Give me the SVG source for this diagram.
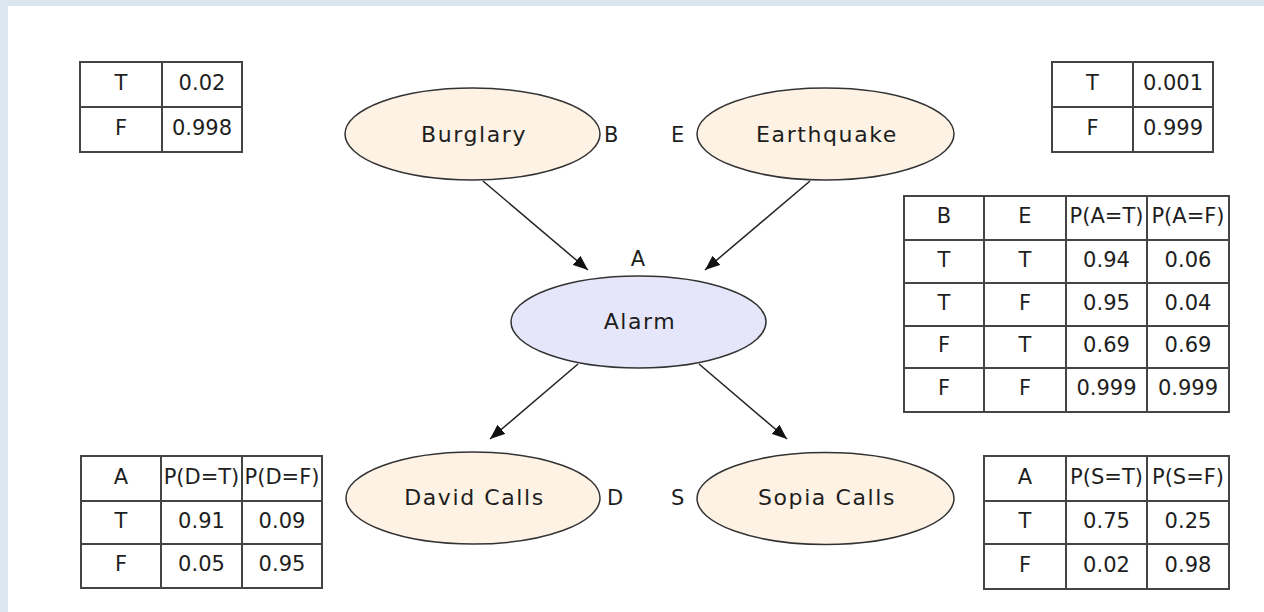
<svg xmlns="http://www.w3.org/2000/svg" width="1264" height="612" viewBox="0 0 1264 612">
  <style>
    .frame { fill: #dce6f1; }
    .node { stroke: #333; stroke-width: 1.5; }
    .cause { fill: #fdf2e4; }
    .alarm { fill: #e6e6fa; }
    .label { font-family: "DejaVu Sans", "Verdana", sans-serif; font-size: 22px; fill: #1e1e1e; text-anchor: middle; letter-spacing: 1.6px; }
    .var { font-family: "DejaVu Sans", "Verdana", sans-serif; font-size: 21px; fill: #1e1e1e; }
    .edge { stroke: #222; stroke-width: 1.5; fill: none; marker-end: url(#arrow); }
    .grid { fill: #fff; stroke: #444; stroke-width: 2; }
    .cell { font-family: "DejaVu Sans", "Verdana", sans-serif; font-size: 21px; fill: #1e1e1e; text-anchor: middle; }
    .rule { stroke: #444; stroke-width: 2; }
  </style>
  <defs>
    <marker id="arrow" viewBox="0 0 15 12" refX="15" refY="6" markerWidth="15" markerHeight="12" markerUnits="userSpaceOnUse" orient="auto">
      <path d="M0,0 L15,6 L0,12 Z" fill="#111"/>
    </marker>
  </defs>

  <!-- page background with light border strips -->
  <rect x="0" y="0" width="1264" height="612" fill="#fff"/>
  <rect class="frame" x="0" y="0" width="1264" height="6"/>
  <rect class="frame" x="0" y="0" width="8" height="612"/>

  <!-- connectors -->
  <g id="edges">
    <line class="edge" x1="483" y1="181" x2="588" y2="270"/>
    <line class="edge" x1="810" y1="181" x2="705" y2="270"/>
    <line class="edge" x1="578" y1="364" x2="490" y2="439"/>
    <line class="edge" x1="699" y1="364" x2="787" y2="439"/>
  </g>

  <!-- nodes -->
  <g id="burglary">
    <ellipse class="node cause" cx="472.5" cy="134" rx="127.5" ry="46"/>
    <text class="label" x="474" y="142">Burglary</text>
    <text class="var" x="604" y="142">B</text>
  </g>
  <g id="earthquake">
    <ellipse class="node cause" cx="825.5" cy="134" rx="128.5" ry="46"/>
    <text class="label" x="827" y="142">Earthquake</text>
    <text class="var" x="671" y="142">E</text>
  </g>
  <g id="alarm">
    <ellipse class="node alarm" cx="638.5" cy="322" rx="127.5" ry="46"/>
    <text class="label" x="640" y="329">Alarm</text>
    <text class="var" x="638" y="266" text-anchor="middle">A</text>
  </g>
  <g id="david">
    <ellipse class="node cause" cx="473" cy="498" rx="127" ry="46"/>
    <text class="label" x="474.5" y="505">David Calls</text>
    <text class="var" x="607" y="505">D</text>
  </g>
  <g id="sopia">
    <ellipse class="node cause" cx="825.5" cy="498.5" rx="128.5" ry="46"/>
    <text class="label" x="827" y="505">Sopia Calls</text>
    <text class="var" x="671" y="505">S</text>
  </g>

  <!-- P(B) -->
  <g id="table-b">
    <rect class="grid" x="80" y="62" width="162" height="90"/>
    <line class="rule" x1="162" y1="62" x2="162" y2="152"/>
    <line class="rule" x1="80" y1="107" x2="242" y2="107"/>
    <text class="cell" x="121" y="90">T</text>
    <text class="cell" x="202" y="90">0.02</text>
    <text class="cell" x="121" y="134.5">F</text>
    <text class="cell" x="202" y="134.5">0.998</text>
  </g>

  <!-- P(E) -->
  <g id="table-e">
    <rect class="grid" x="1052" y="62" width="161" height="90"/>
    <line class="rule" x1="1133" y1="62" x2="1133" y2="152"/>
    <line class="rule" x1="1052" y1="107" x2="1213" y2="107"/>
    <text class="cell" x="1092.5" y="90">T</text>
    <text class="cell" x="1173" y="90">0.001</text>
    <text class="cell" x="1092.5" y="134.5">F</text>
    <text class="cell" x="1173" y="134.5">0.999</text>
  </g>

  <!-- P(A | B, E) -->
  <g id="table-a">
    <rect class="grid" x="904" y="196" width="325" height="216"/>
    <line class="rule" x1="984" y1="196" x2="984" y2="412"/>
    <line class="rule" x1="1066" y1="196" x2="1066" y2="412"/>
    <line class="rule" x1="1147" y1="196" x2="1147" y2="412"/>
    <line class="rule" x1="904" y1="240" x2="1229" y2="240"/>
    <line class="rule" x1="904" y1="283" x2="1229" y2="283"/>
    <line class="rule" x1="904" y1="326" x2="1229" y2="326"/>
    <line class="rule" x1="904" y1="368" x2="1229" y2="368"/>
    <text class="cell" x="944" y="223">B</text>
    <text class="cell" x="1025" y="223">E</text>
    <text class="cell" x="1106.5" y="223">P(A=T)</text>
    <text class="cell" x="1188" y="223">P(A=F)</text>
    <text class="cell" x="944" y="266.5">T</text>
    <text class="cell" x="1025" y="266.5">T</text>
    <text class="cell" x="1106.5" y="266.5">0.94</text>
    <text class="cell" x="1188" y="266.5">0.06</text>
    <text class="cell" x="944" y="309.5">T</text>
    <text class="cell" x="1025" y="309.5">F</text>
    <text class="cell" x="1106.5" y="309.5">0.95</text>
    <text class="cell" x="1188" y="309.5">0.04</text>
    <text class="cell" x="944" y="352">F</text>
    <text class="cell" x="1025" y="352">T</text>
    <text class="cell" x="1106.5" y="352">0.69</text>
    <text class="cell" x="1188" y="352">0.69</text>
    <text class="cell" x="944" y="395">F</text>
    <text class="cell" x="1025" y="395">F</text>
    <text class="cell" x="1106.5" y="395">0.999</text>
    <text class="cell" x="1188" y="395">0.999</text>
  </g>

  <!-- P(D | A) -->
  <g id="table-d">
    <rect class="grid" x="81" y="456" width="241" height="132"/>
    <line class="rule" x1="161" y1="456" x2="161" y2="588"/>
    <line class="rule" x1="242" y1="456" x2="242" y2="588"/>
    <line class="rule" x1="81" y1="501" x2="322" y2="501"/>
    <line class="rule" x1="81" y1="544" x2="322" y2="544"/>
    <text class="cell" x="121" y="483.5">A</text>
    <text class="cell" x="201.5" y="483.5">P(D=T)</text>
    <text class="cell" x="282" y="483.5">P(D=F)</text>
    <text class="cell" x="121" y="527.5">T</text>
    <text class="cell" x="201.5" y="527.5">0.91</text>
    <text class="cell" x="282" y="527.5">0.09</text>
    <text class="cell" x="121" y="571">F</text>
    <text class="cell" x="201.5" y="571">0.05</text>
    <text class="cell" x="282" y="571">0.95</text>
  </g>

  <!-- P(S | A) -->
  <g id="table-s">
    <rect class="grid" x="984" y="456" width="245" height="133"/>
    <line class="rule" x1="1066" y1="456" x2="1066" y2="589"/>
    <line class="rule" x1="1147" y1="456" x2="1147" y2="589"/>
    <line class="rule" x1="984" y1="501" x2="1229" y2="501"/>
    <line class="rule" x1="984" y1="544" x2="1229" y2="544"/>
    <text class="cell" x="1025" y="483.5">A</text>
    <text class="cell" x="1106.5" y="483.5">P(S=T)</text>
    <text class="cell" x="1188" y="483.5">P(S=F)</text>
    <text class="cell" x="1025" y="527.5">T</text>
    <text class="cell" x="1106.5" y="527.5">0.75</text>
    <text class="cell" x="1188" y="527.5">0.25</text>
    <text class="cell" x="1025" y="571.5">F</text>
    <text class="cell" x="1106.5" y="571.5">0.02</text>
    <text class="cell" x="1188" y="571.5">0.98</text>
  </g>
</svg>
